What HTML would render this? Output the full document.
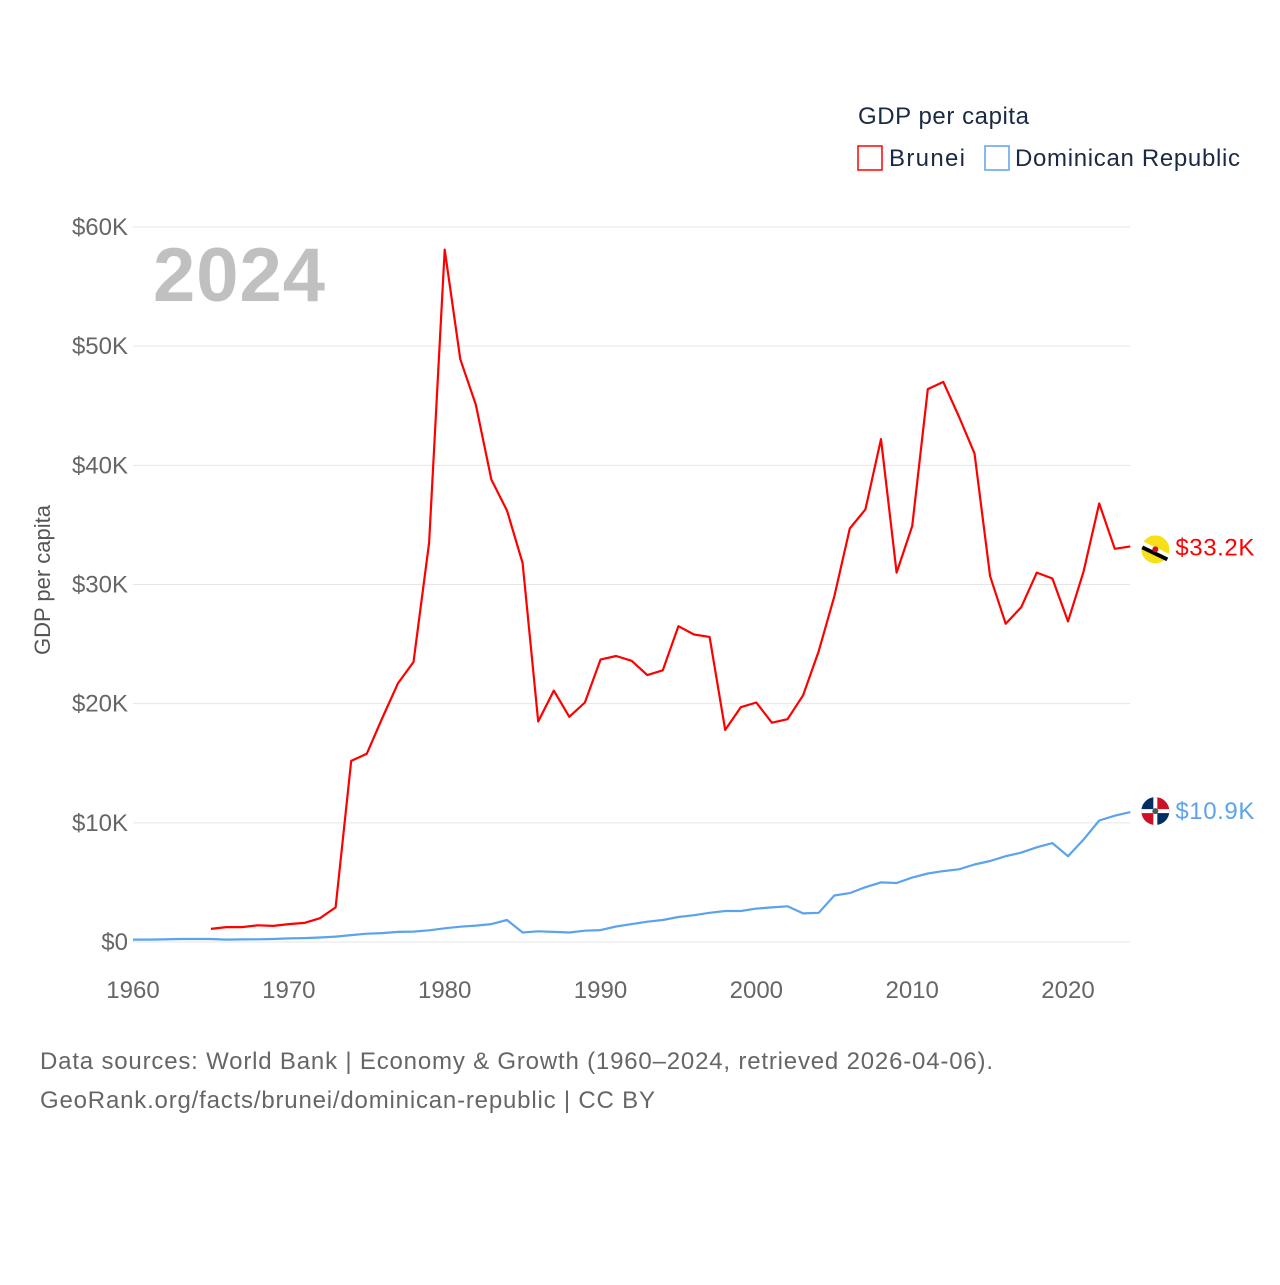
<!DOCTYPE html>
<html><head><meta charset="utf-8"><style>
body{margin:0;background:#fff;font-family:"Liberation Sans",sans-serif}
svg text{font-family:"Liberation Sans",sans-serif}
</style></head><body>
<svg id="chart" width="1280" height="1280" viewBox="0 0 1280 1280" xmlns="http://www.w3.org/2000/svg">
<g id="grid"></g>
<g id="yticks"></g>
<g id="xticks"></g>
<text x="153" y="301" font-size="76" font-weight="bold" fill="#c0c0c0" textLength="172">2024</text>
<text transform="translate(50,580) rotate(-90)" text-anchor="middle" font-size="22" fill="#555">GDP per capita</text>
<text x="858" y="124" font-size="24" fill="#1a2a44" textLength="171">GDP per capita</text>
<rect x="858" y="146" width="24" height="24" fill="none" stroke="#ff0000" stroke-width="1.5"/>
<text x="889" y="166" font-size="24" fill="#1a2a44" textLength="76">Brunei</text>
<rect x="985" y="146" width="24" height="24" fill="none" stroke="#5ba3ec" stroke-width="1.5"/>
<text x="1015" y="166" font-size="24" fill="#1a2a44" textLength="225">Dominican Republic</text>
<g id="series"></g>
<text x="40" y="1069" font-size="24" fill="#666" textLength="953">Data sources: World Bank | Economy &amp; Growth (1960–2024, retrieved 2026-04-06).</text>
<text x="40" y="1108" font-size="24" fill="#666" textLength="615">GeoRank.org/facts/brunei/dominican-republic | CC BY</text>
</svg>
<script>
const bruneiYears = [1965,1966,1967,1968,1969,1970,1971,1972,1973,1974,1975,1976,1977,1978,1979,1980,1981,1982,1983,1984,1985,1986,1987,1988,1989,1990,1991,1992,1993,1994,1995,1996,1997,1998,1999,2000,2001,2002,2003,2004,2005,2006,2007,2008,2009,2010,2011,2012,2013,2014,2015,2016,2017,2018,2019,2020,2021,2022,2023,2024];
const bruneiValues = [1.1,1.25,1.25,1.4,1.35,1.5,1.6,2.0,2.9,15.2,15.8,18.8,21.7,23.5,33.5,58.1,48.9,45.1,38.8,36.2,31.8,18.5,21.1,18.9,20.1,23.7,24.0,23.6,22.4,22.8,26.5,25.8,25.6,17.8,19.7,20.1,18.4,18.7,20.7,24.4,29.0,34.7,36.3,42.2,31.0,34.9,46.4,47.0,44.1,41.0,30.7,26.7,28.1,31.0,30.5,26.9,31.1,36.8,33.0,33.2];
const domYears = [1960,1961,1962,1963,1964,1965,1966,1967,1968,1969,1970,1971,1972,1973,1974,1975,1976,1977,1978,1979,1980,1981,1982,1983,1984,1985,1986,1987,1988,1989,1990,1991,1992,1993,1994,1995,1996,1997,1998,1999,2000,2001,2002,2003,2004,2005,2006,2007,2008,2009,2010,2011,2012,2013,2014,2015,2016,2017,2018,2019,2020,2021,2022,2023,2024];
const domValues = [0.2,0.2,0.22,0.25,0.25,0.25,0.2,0.22,0.23,0.25,0.3,0.33,0.38,0.45,0.58,0.7,0.75,0.85,0.87,0.98,1.15,1.28,1.38,1.5,1.85,0.8,0.9,0.85,0.8,0.95,1.0,1.3,1.5,1.7,1.85,2.1,2.25,2.45,2.6,2.6,2.8,2.9,3.0,2.4,2.45,3.9,4.1,4.6,5.0,4.95,5.4,5.75,5.95,6.1,6.5,6.8,7.2,7.5,7.95,8.3,7.2,8.6,10.2,10.6,10.9];
const yTickValues = [0,10,20,30,40,50,60];
const yTickLabels = ["$0","$10K","$20K","$30K","$40K","$50K","$60K"];
const xTickValues = [1960,1970,1980,1990,2000,2010,2020];

const NS="http://www.w3.org/2000/svg";
function xs(yr){return 133+(yr-1960)*(1068-133)/60;}
function ys(v){return 942-v*(942-227)/60;}
function mk(tag,attrs,parent){const e=document.createElementNS(NS,tag);for(const k in attrs)e.setAttribute(k,attrs[k]);parent.appendChild(e);return e;}

const grid=document.getElementById('grid'),yt=document.getElementById('yticks'),xt=document.getElementById('xticks'),ser=document.getElementById('series');
yTickValues.forEach((v,i)=>{
  const l=mk('line',{x1:133,x2:1130,y1:ys(v),y2:ys(v),stroke:'#e6e6e6','stroke-width':1},grid);
  
  
  const t=mk('text',{x:128,y:ys(v)+8,'text-anchor':'end','font-size':24,fill:'#666'},yt);
  t.textContent=yTickLabels[i];
  
  
});
xTickValues.forEach(v=>{
  const t=mk('text',{x:xs(v),y:998,'text-anchor':'middle','font-size':24,fill:'#666'},xt);
  t.textContent=v;
  
  
});
function line(years,vals,color,name){
  const d=years.map((y,i)=>(i?'L':'M')+xs(y).toFixed(1)+','+ys(vals[i]).toFixed(1)).join('');
  const p=mk('path',{d:d,fill:'none',stroke:color,'stroke-width':2.2,'stroke-linejoin':'round'},ser);
  
  
}
line(domYears,domValues,'#5ba3ec','line-dominican-republic');
line(bruneiYears,bruneiValues,'#ff0000','line-brunei');

const bv=bruneiValues[bruneiValues.length-1], dv=domValues[domValues.length-1];
const bx=xs(2024)+25, by=ys(bv)+3, dy=ys(dv)-1;
const g1=mk('g',{},ser);


mk('circle',{cx:bx,cy:by,r:14,fill:'#f7e017'},g1);
mk('line',{x1:bx-14,y1:by-6,x2:bx+13,y2:by+7,stroke:'#fff','stroke-width':5},g1);
mk('line',{x1:bx-13,y1:by-2,x2:bx+12,y2:by+10,stroke:'#000','stroke-width':4},g1);
mk('circle',{cx:bx,cy:by,r:3,fill:'#cf1126'},g1);
const t1=mk('text',{x:bx+20,y:by+6,'font-size':24,fill:'#ff0000',textLength:79},ser);
t1.textContent='$'+bv.toFixed(1)+'K';


const g2=mk('g',{},ser);


mk('path',{d:`M${bx},${dy} L${bx-14},${dy} A14,14 0 0 1 ${bx},${dy-14}Z`,fill:'#002d62'},g2);
mk('path',{d:`M${bx},${dy} L${bx},${dy-14} A14,14 0 0 1 ${bx+14},${dy}Z`,fill:'#ce1126'},g2);
mk('path',{d:`M${bx},${dy} L${bx+14},${dy} A14,14 0 0 1 ${bx},${dy+14}Z`,fill:'#002d62'},g2);
mk('path',{d:`M${bx},${dy} L${bx},${dy+14} A14,14 0 0 1 ${bx-14},${dy}Z`,fill:'#ce1126'},g2);
mk('rect',{x:bx-14,y:dy-2,width:28,height:4,fill:'#fff'},g2);
mk('rect',{x:bx-2,y:dy-14,width:4,height:28,fill:'#fff'},g2);
mk('circle',{cx:bx,cy:dy,r:3,fill:'#555'},g2);
const t2=mk('text',{x:bx+20,y:dy+8,'font-size':24,fill:'#5ba3ec',textLength:79},ser);
t2.textContent='$'+dv.toFixed(1)+'K';


</script>
</body></html>
